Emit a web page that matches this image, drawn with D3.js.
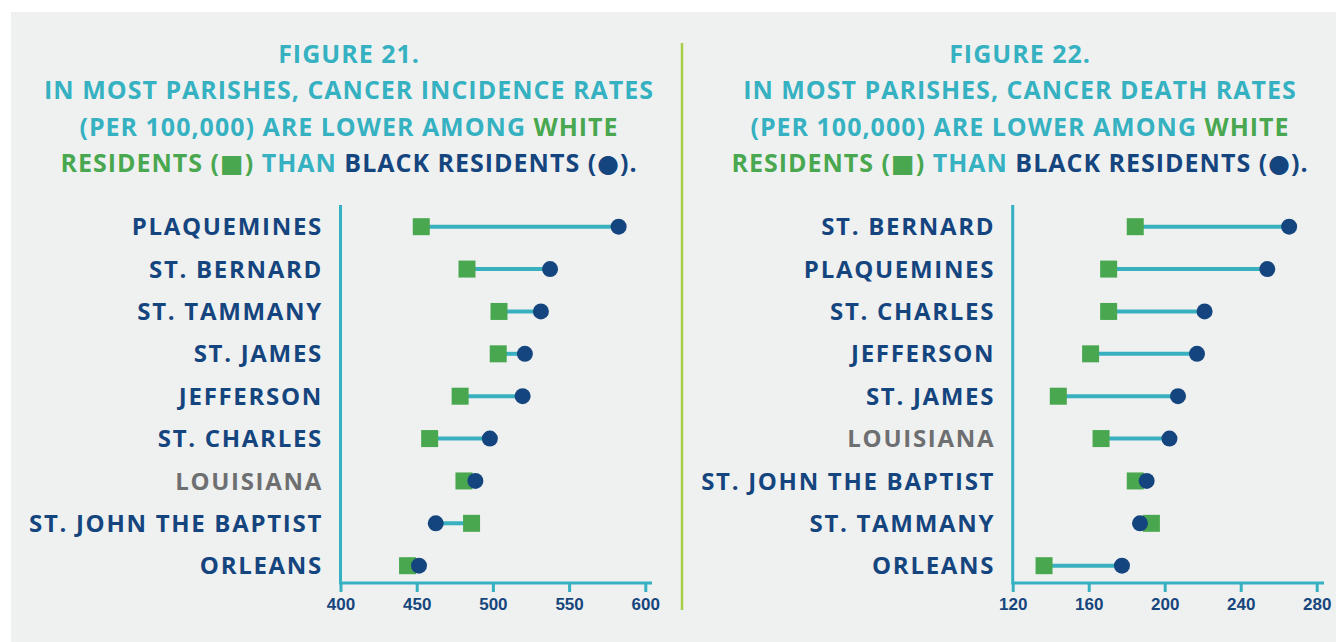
<!DOCTYPE html>
<meta charset="utf-8">
<style>
  body { margin: 0; background: #fff; }
  svg { display: block; font-family: "Open Sans", "Noto Sans", sans-serif; font-weight: 700; }
  .tick text { font-size: 17px; fill: #17467d; }
  .lbl { font-size: 24px; letter-spacing: 1.7px; }
</style>
<body>
  <svg id="board" width="1336" height="642"></svg>
</body>
<script src="https://d3js.org/d3.v7.min.js"></script>
<script>
// figure 21 - incidence
var incParishes = ["PLAQUEMINES", "ST. BERNARD", "ST. TAMMANY", "ST. JAMES", "JEFFERSON", "ST. CHARLES", "LOUISIANA", "ST. JOHN THE BAPTIST", "ORLEANS"];
var incWhite = [453, 483, 504, 503.5, 478.5, 458.5, 481, 486, 444];
var incBlack = [582.5, 537.5, 531.5, 521, 519.5, 498, 488.5, 462.5, 451.5];
var incTicks = [400, 450, 500, 550, 600];

// figure 22 - deaths
var deathParishes = ["ST. BERNARD", "PLAQUEMINES", "ST. CHARLES", "JEFFERSON", "ST. JAMES", "LOUISIANA", "ST. JOHN THE BAPTIST", "ST. TAMMANY", "ORLEANS"];
var deathWhite = [184.5, 170.5, 170.5, 161, 144, 166.5, 184.5, 193, 136.5];
var deathBlack = [265.5, 254, 221, 217, 207, 202.5, 190.5, 187, 177.5];
var deathTicks = [120, 160, 200, 240, 280];

var titles = [
  ["FIGURE 21.", "IN MOST PARISHES, CANCER INCIDENCE RATES"],
  ["FIGURE 22.", "IN MOST PARISHES, CANCER DEATH RATES"]
];

var teal = "#35b1c1", green = "#49a84f", navy = "#15457e", grey = "#6e6f71", lime = "#a6cf48";

var svg = d3.select("#board");

svg.append("rect").attr("x", 11).attr("y", 12).attr("width", 1325).attr("height", 630).attr("fill", "#eff1f1");

// divider
svg.append("line").attr("x1", 682).attr("x2", 682).attr("y1", 43).attr("y2", 610)
  .attr("stroke", lime).attr("stroke-width", 2.5);

function drawTitle(cx, lines) {
  var t = svg.append("text").attr("text-anchor", "middle").attr("font-size", 25)
    .attr("letter-spacing", 1).attr("fill", teal);
  t.append("tspan").attr("x", cx).attr("y", 62.5).text(lines[0]);
  t.append("tspan").attr("x", cx).attr("y", 99).text(lines[1]);
  var l3 = t.append("tspan").attr("x", cx).attr("y", 136);
  l3.append("tspan").text("(PER 100,000) ARE LOWER AMONG ");
  l3.append("tspan").attr("fill", green).text("WHITE");
  var l4 = t.append("tspan").attr("x", cx).attr("y", 172);
  l4.append("tspan").attr("fill", green).text("RESIDENTS (");
  l4.append("tspan").attr("fill", green).attr("font-family", "DejaVu Sans").text("\u25A0");
  l4.append("tspan").attr("fill", green).text(")");
  l4.append("tspan").text(" THAN ");
  l4.append("tspan").attr("fill", navy).text("BLACK RESIDENTS (");
  l4.append("tspan").attr("fill", navy).attr("font-family", "DejaVu Sans").text("\u25CF");
  l4.append("tspan").attr("fill", navy).text(").");
}

function drawChart(opt) {
  var x = d3.scaleLinear().domain(opt.domain).range(opt.range);
  var y = d3.scalePoint().domain(opt.parishes).range([226.7, 565.7]);
  var base = 583, axTop = 205;
  var g = svg.append("g");

  // x axis
  var ax = g.append("g").attr("transform", "translate(0," + base + ")")
    .call(d3.axisBottom(x).tickValues(opt.ticks).tickSize(9).tickPadding(6).tickFormat(d3.format("d")));
  ax.select(".domain").remove();
  ax.selectAll(".tick line").attr("stroke", teal).attr("stroke-width", 3);
  ax.selectAll(".tick text").attr("font-family", "inherit");
  g.append("line").attr("x1", opt.range[0]).attr("x2", opt.axisEnd).attr("y1", base).attr("y2", base)
    .attr("stroke", teal).attr("stroke-width", 3);
  g.append("line").attr("x1", opt.range[0]).attr("x2", opt.range[0]).attr("y1", axTop).attr("y2", base + 1.5)
    .attr("stroke", teal).attr("stroke-width", 3);

  var rows = opt.parishes.map(function (p, i) { return { name: p, w: opt.white[i], b: opt.black[i] }; });

  g.selectAll(".lbl").data(rows).enter().append("text")
    .attr("class", "lbl")
    .attr("x", opt.range[0] - 17.5)
    .attr("y", function (d) { return y(d.name); })
    .attr("dy", "0.36em")
    .attr("text-anchor", "end")
    .attr("fill", function (d) { return d.name == "LOUISIANA" ? grey : navy; })
    .text(function (d) { return d.name; });

  g.selectAll(".link").data(rows).enter().append("line")
    .attr("x1", function (d) { return x(d.w); })
    .attr("x2", function (d) { return x(d.b); })
    .attr("y1", function (d) { return y(d.name); })
    .attr("y2", function (d) { return y(d.name); })
    .attr("stroke", "#38b0bf").attr("stroke-width", 4);

  g.selectAll(".sq").data(rows).enter().append("rect")
    .attr("x", function (d) { return x(d.w) - 8.5; })
    .attr("y", function (d) { return y(d.name) - 8.5; })
    .attr("width", 17).attr("height", 17)
    .attr("fill", green);

  g.selectAll(".dot").data(rows).enter().append("circle")
    .attr("cx", function (d) { return x(d.b); })
    .attr("cy", function (d) { return y(d.name); })
    .attr("r", 8)
    .attr("fill", navy);
}

drawTitle(349, titles[0]);
drawTitle(1020, titles[1]);

drawChart({ parishes: incParishes, white: incWhite, black: incBlack, ticks: incTicks,
  domain: [400, 600], range: [340.5, 645.3], axisEnd: 652 });
drawChart({ parishes: deathParishes, white: deathWhite, black: deathBlack, ticks: deathTicks,
  domain: [120, 280], range: [1012.7, 1316.7], axisEnd: 1324 });
</script>
